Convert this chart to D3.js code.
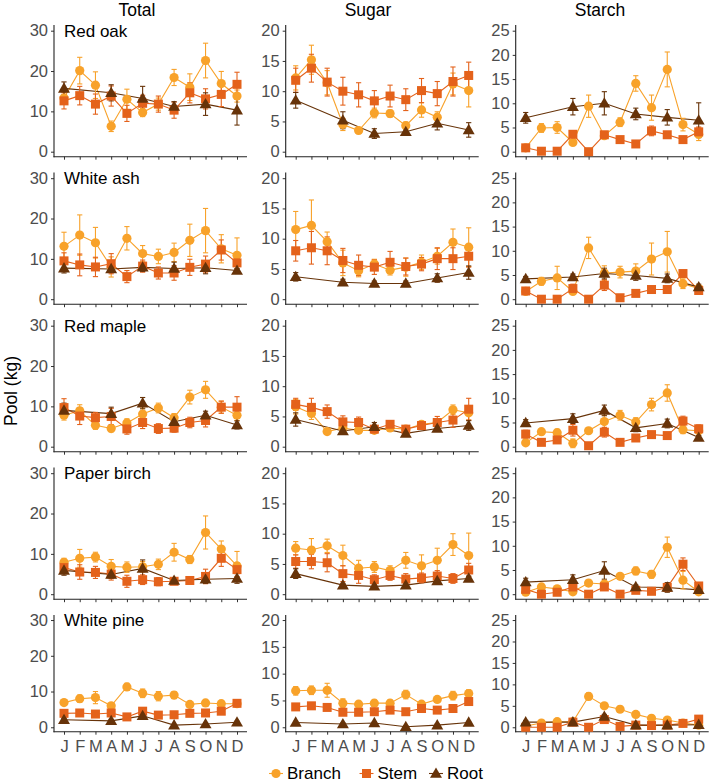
<!DOCTYPE html>
<html><head><meta charset="utf-8">
<script src="https://cdn.jsdelivr.net/npm/d3@7"></script>
<style>body{margin:0;background:#fff}svg{display:block;font-family:"Liberation Sans",Arial,sans-serif}</style>
</head><body><svg id="c" width="709" height="784"></svg>
<script>
const months = ["J","F","M","A","M","J","J","A","S","O","N","D"];
const rootMonths = [0,3,5,7,9,11];
const species = ["Red oak","White ash","Red maple","Paper birch","White pine"];
const pools = ["Total","Sugar","Starch"];
const seriesNames = ["Branch","Stem","Root"];
const totalTicks = [0,10,20,30];
const sugarTicks = [0,5,10,15,20];
const starchTicks = [0,5,10,15,20,25];

// each panel: [branch(12), stem(12), root(6 at rootMonths)]
const redOakTotal = [[13.3,20.1,16.5,6.3,13.0,9.7,11.8,18.4,16.0,22.6,16.9,13.8],[12.6,13.9,11.8,13.8,9.5,12.0,11.8,10.3,14.6,13.1,14.2,16.7],[15.7,14.6,13.2,11.2,11.8,10.3]];
const redOakTotalErr = [[1.5,3.3,3.3,1.3,2.5,1.0,1.5,2.0,3.3,4.3,3.0,1.5],[2.0,2.3,2.5,2.5,2.0,2.0,2.0,2.0,2.5,2.5,3.0,3.0],[1.6,2.0,3.0,1.2,2.8,3.7]];
const redOakSugar = [[12.2,15.2,11.4,4.5,3.5,6.4,6.3,4.3,6.9,5.7,11.2,10.1],[11.8,13.8,11.5,10.0,9.4,8.4,9.2,8.6,10.1,9.6,11.6,12.6],[8.5,5.2,3.0,3.3,4.7,3.6]];
const redOakSugarErr = [[2.0,2.4,2.0,1.0,0.5,0.8,0.6,0.6,1.2,0.9,1.8,2.7],[2.0,2.3,2.3,2.3,2.0,1.7,1.8,1.8,2.0,2.0,2.4,2.2],[1.3,1.4,0.8,0.5,1.1,1.2]];
const redOakStarch = [[0.8,4.9,5.0,1.9,9.4,3.3,6.1,14.1,9.1,17.0,5.6,3.6],[0.8,0.1,0.1,3.6,0.0,3.5,2.5,1.6,4.3,3.5,2.5,4.1],[7.0,9.3,10.0,7.8,7.1,6.5]];
const redOakStarchErr = [[0.3,0.9,1.2,0.5,2.3,0.5,0.9,1.6,2.6,3.6,1.3,1.3],[0.3,0.2,0.2,0.6,0.2,0.5,0.4,0.4,1.0,0.6,0.5,1.0],[1.1,1.7,2.4,1.2,1.6,3.6]];

const whiteAshTotal = [[13.1,15.9,14.0,8.0,15.1,11.3,10.6,11.6,14.6,17.0,12.5,10.9],[9.5,8.5,8.0,8.8,5.6,8.2,6.5,6.5,7.9,8.7,12.2,9.0],[7.7,7.5,7.9,7.6,7.8,7.1]];
const whiteAshTotalErr = [[3.5,5.0,3.8,2.5,2.9,2.0,1.8,2.3,4.0,5.5,3.5,4.3],[2.0,2.7,2.4,2.5,1.5,1.5,1.5,1.8,2.0,2.0,2.5,2.0],[1.2,0.8,1.0,1.6,1.5,0.5]];
const whiteAshSugar = [[11.5,12.2,9.5,6.0,4.7,5.8,4.8,5.3,6.1,7.1,9.4,8.6],[8.0,8.5,8.0,6.4,5.6,5.3,6.1,5.4,5.8,6.7,6.7,7.1],[3.7,2.8,2.6,2.6,3.5,4.4]];
const whiteAshSugarErr = [[3.0,4.2,1.6,2.1,1.0,0.8,0.8,1.5,1.2,1.3,2.2,3.2],[1.7,2.7,2.3,2.0,1.7,1.2,1.8,1.4,1.1,1.8,1.8,1.8],[0.7,0.5,0.4,0.4,0.7,1.1]];
const whiteAshStarch = [[1.6,3.7,4.4,1.6,10.6,5.4,5.6,5.8,8.3,9.8,3.2,2.2],[1.7,0.0,0.0,2.2,0.0,2.9,0.3,1.2,2.0,2.0,5.3,1.8],[4.2,4.6,5.3,4.9,4.3,2.5]];
const whiteAshStarchErr = [[0.4,0.8,2.4,0.4,2.2,1.5,1.2,1.5,3.3,4.2,1.0,0.5],[0.4,0.2,0.2,0.9,0.2,1.1,0.3,0.3,0.5,0.4,0.6,0.4],[0.5,0.6,1.1,1.0,0.9,0.6]];

const redMapleTotal = [[7.8,8.9,5.3,4.5,5.9,8.1,9.6,7.2,12.3,14.1,9.8,7.8],[9.7,7.6,7.2,7.5,4.4,6.0,4.5,4.6,6.0,6.5,9.8,9.8],[9.0,8.2,10.8,6.2,7.8,5.4]];
const redMapleTotalErr = [[1.2,1.5,1.0,0.8,1.0,1.5,1.2,1.0,1.7,2.1,1.5,1.3],[2.2,2.1,1.3,2.0,1.3,1.5,1.2,1.0,1.3,1.6,1.5,2.6],[1.8,1.6,1.4,1.0,1.0,1.0]];
const redMapleSugar = [[6.6,5.5,2.5,3.1,2.7,2.7,3.1,2.9,3.7,4.0,6.1,5.6],[7.0,6.5,5.8,4.1,4.0,2.9,3.7,2.9,3.5,4.0,4.4,6.2],[4.5,2.6,3.3,2.2,3.0,3.5]];
const redMapleSugarErr = [[1.2,1.0,0.3,0.5,0.4,0.5,0.4,0.3,0.5,0.6,0.8,1.2],[1.0,1.5,1.1,1.0,0.9,0.5,0.6,0.4,0.5,1.0,1.2,1.8],[1.1,0.5,0.7,0.4,0.4,0.8]];
const redMapleStarch = [[0.8,3.1,2.9,0.7,3.3,5.2,6.5,5.1,8.7,11.1,3.5,3.3],[2.6,0.9,1.4,3.4,0.2,3.0,0.9,1.8,2.5,2.3,5.3,3.7],[4.9,5.8,7.5,3.9,4.8,1.9]];
const redMapleStarchErr = [[0.5,0.6,0.7,0.9,0.5,1.3,1.0,0.9,1.3,1.7,0.8,0.5],[0.8,0.3,0.5,1.2,0.2,1.0,0.3,0.4,0.5,0.5,1.0,0.8],[0.7,1.0,1.1,0.8,0.9,0.4]];

const paperBirchTotal = [[7.9,8.9,9.2,6.9,6.7,6.8,7.4,10.4,8.6,15.3,11.2,7.0],[6.6,5.5,5.4,5.0,3.2,3.6,3.1,3.2,3.4,4.4,8.9,6.1],[5.9,4.9,6.4,3.4,3.7,3.9]];
const paperBirchTotalErr = [[1.0,2.2,1.2,1.7,1.3,1.3,1.3,2.2,1.0,4.1,2.0,3.6],[1.5,1.8,1.5,1.5,1.5,1.2,1.0,0.8,0.8,1.8,2.0,1.7],[1.2,1.0,2.1,0.6,1.0,1.2]];
const paperBirchSugar = [[7.6,7.3,8.0,6.4,4.3,4.5,3.9,5.6,4.7,5.6,8.2,6.4],[5.4,5.4,5.2,3.4,3.1,2.4,3.1,2.5,2.7,3.0,2.6,4.0],[3.4,1.5,1.3,1.5,2.2,2.6]];
const paperBirchSugarErr = [[1.1,1.9,1.1,1.7,1.3,0.9,0.8,1.3,1.8,2.0,1.8,3.7],[1.1,1.2,1.5,1.3,1.3,0.8,0.8,0.9,0.8,0.9,0.8,1.1],[0.8,0.3,0.4,0.3,0.4,0.4]];
const paperBirchStarch = [[0.4,1.5,1.1,0.5,2.3,2.1,3.7,4.8,4.1,9.7,2.9,0.5],[1.0,0.0,0.4,1.5,0.0,1.5,0.0,0.8,0.6,1.4,6.2,1.7],[2.5,3.0,4.9,1.5,1.4,0.9]];
const paperBirchStarchErr = [[0.3,0.3,0.3,0.3,0.3,0.4,0.4,0.8,0.8,2.1,1.8,0.4],[0.6,0.2,0.3,0.7,0.2,0.4,0.2,0.3,0.3,0.6,1.3,0.4],[0.8,1.0,1.8,0.4,1.0,0.3]];

const whitePineTotal = [[6.9,8.0,8.3,6.0,11.3,9.5,8.7,9.0,6.4,6.8,6.6,6.6],[3.9,4.0,3.7,4.0,2.9,4.5,3.4,3.5,3.9,4.0,4.5,6.7],[2.1,1.8,3.2,0.6,0.9,1.4]];
const whitePineTotalErr = [[0.8,1.0,1.7,0.7,1.0,1.2,1.3,1.0,0.6,0.6,0.7,0.7],[0.5,0.5,0.5,0.5,0.4,0.6,0.5,0.5,0.5,0.5,0.5,0.6],[0.4,0.4,0.5,0.2,0.3,0.3]];
const whitePineSugar = [[6.8,6.9,6.9,4.5,4.3,4.5,4.5,6.1,4.3,5.2,5.9,6.3],[3.8,4.0,3.7,2.8,2.8,2.9,3.2,2.9,3.5,3.2,3.5,4.8],[0.9,0.6,0.8,0.1,0.4,0.9]];
const whitePineSugarErr = [[0.8,0.8,1.3,0.8,0.4,0.6,0.6,0.8,0.4,0.4,0.8,0.7],[0.6,0.5,0.5,0.6,0.4,0.5,0.5,0.4,0.5,0.4,0.4,0.6],[0.2,0.2,0.2,0.2,0.2,0.2]];
const whitePineStarch = [[0.3,1.0,1.3,1.3,7.2,5.0,4.2,3.0,2.1,1.7,1.0,0.5],[0.0,0.0,0.0,1.2,0.0,1.8,0.2,0.5,0.4,0.5,0.9,1.9],[1.2,1.2,2.5,0.5,0.5,0.6]];
const whitePineStarchErr = [[0.2,0.3,0.3,0.3,0.8,0.5,0.7,0.4,0.3,0.4,0.3,0.2],[0.2,0.2,0.2,0.3,0.2,0.4,0.2,0.2,0.2,0.2,0.2,0.3],[0.4,0.3,0.5,0.2,0.2,0.2]];

const panelData = [
  [[redOakTotal,redOakTotalErr],[redOakSugar,redOakSugarErr],[redOakStarch,redOakStarchErr]],
  [[whiteAshTotal,whiteAshTotalErr],[whiteAshSugar,whiteAshSugarErr],[whiteAshStarch,whiteAshStarchErr]],
  [[redMapleTotal,redMapleTotalErr],[redMapleSugar,redMapleSugarErr],[redMapleStarch,redMapleStarchErr]],
  [[paperBirchTotal,paperBirchTotalErr],[paperBirchSugar,paperBirchSugarErr],[paperBirchStarch,paperBirchStarchErr]],
  [[whitePineTotal,whitePineTotalErr],[whitePineSugar,whitePineSugarErr],[whitePineStarch,whitePineStarchErr]]
];

const colors = ["#F8A22A","#E4621B","#673309"];
const colTicks = [totalTicks, sugarTicks, starchTicks];
const colMax = [30, 20, 25];
const colX = [54, 285.7, 515.7];
const panelW = 193;
const rowPitch = 147.5;

const svg = d3.select("#c");
const tickColor = "#4D4D4D";

function drawMarker(g, type, x, y, color, s) {
  if (type === 0) {
    g.append("circle").attr("cx", x).attr("cy", y).attr("r", 4.6*s).attr("fill", color);
  } else if (type === 1) {
    const h = 4.5*s;
    g.append("rect").attr("x", x-h).attr("y", y-h).attr("width", 2*h).attr("height", 2*h).attr("fill", color);
  } else {
    const sym = d3.symbol().type(d3.symbolTriangle).size(62*s*s);
    g.append("path").attr("d", sym()).attr("transform", `translate(${x},${y+0.8})`).attr("fill", color);
  }
}

for (let r = 0; r < 5; r++) {
  const top = 25 + rowPitch*r;
  const bottom = r < 4 ? top + 131.7 : 731.7;
  for (let c = 0; c < 3; c++) {
    const x0 = colX[c];
    const max = colMax[c];
    const x = d3.scaleLinear().domain([0, 11]).range([x0+10, x0+183]);
    const y = d3.scaleLinear().domain([-0.0413*max, 1.047*max]).range([bottom, top]);
    const g = svg.append("g");

    const ya = g.append("g").attr("transform", `translate(${x0},0)`)
      .call(d3.axisLeft(y).tickValues(colTicks[c]).tickSize(3).tickSizeOuter(0).tickPadding(3));
    ya.select(".domain").remove();
    ya.selectAll("line").attr("stroke", "#333").attr("stroke-width", 1);
    ya.selectAll("text").attr("fill", tickColor).attr("font-size", "16.5px").attr("font-family", "Liberation Sans, Arial, sans-serif");

    const xa = g.append("g").attr("transform", `translate(0,${bottom})`)
      .call(d3.axisBottom(x).tickValues(d3.range(12)).tickSize(3).tickSizeOuter(0).tickPadding(6)
        .tickFormat(i => r === 4 ? months[i] : ""));
    xa.select(".domain").remove();
    xa.selectAll("line").attr("stroke", "#333").attr("stroke-width", 1);
    xa.selectAll("text").attr("fill", tickColor).attr("font-size", "16.5px").attr("font-family", "Liberation Sans, Arial, sans-serif");

    g.append("line").attr("x1", x0).attr("x2", x0).attr("y1", top).attr("y2", bottom+0.5).attr("stroke", "#222").attr("stroke-width", 1.1);
    g.append("line").attr("x1", x0-0.5).attr("x2", x0+panelW).attr("y1", bottom).attr("y2", bottom).attr("stroke", "#222").attr("stroke-width", 1.1);

    const [vals, errs] = panelData[r][c];
    const series = vals.map((arr, s) => arr.map((v, i) => ({
      m: s === 2 ? rootMonths[i] : i, v, e: errs[s][i]
    })));
    const line = d3.line().x(d => x(d.m)).y(d => y(d.v));
    series.forEach((pts, s) => {
      g.append("path").attr("d", line(pts)).attr("fill", "none").attr("stroke", colors[s]).attr("stroke-width", 1.1);
    });
    series.forEach((pts, s) => {
      pts.forEach(d => {
        const cx = x(d.m), y1 = y(d.v - d.e), y2 = y(d.v + d.e);
        g.append("line").attr("x1", cx).attr("x2", cx).attr("y1", y1).attr("y2", y2).attr("stroke", colors[s]).attr("stroke-width", 1.1);
        [y1, y2].forEach(yy => g.append("line").attr("x1", cx-2.6).attr("x2", cx+2.6).attr("y1", yy).attr("y2", yy).attr("stroke", colors[s]).attr("stroke-width", 1.1));
      });
    });
    series.forEach((pts, s) => {
      pts.forEach(d => drawMarker(g, s, x(d.m), y(d.v), colors[s], 1));
    });

    if (c === 0) {
      g.append("text").attr("x", x0+10).attr("y", y(max)).attr("dy", "0.35em")
        .attr("font-size", "17px").attr("fill", "#000").text(species[r]);
    }
  }
}

const titleX = [137, 368, 600];
pools.forEach((p, c) => {
  svg.append("text").attr("x", titleX[c]).attr("y", 10).attr("dy", "0.35em").attr("text-anchor", "middle")
    .attr("font-size", "17.5px").attr("fill", "#000").text(p);
});

svg.append("text").attr("transform", "translate(11,391) rotate(-90)").attr("text-anchor", "middle").attr("dy", "0.35em")
  .attr("font-size", "17.5px").attr("fill", "#000").text("Pool (kg)");

const legX = [276, 366.5, 436];
const legY = 773.5;
seriesNames.forEach((n, s) => {
  const lg = svg.append("g");
  lg.append("line").attr("x1", legX[s]-7).attr("x2", legX[s]+7).attr("y1", legY).attr("y2", legY).attr("stroke", colors[s]).attr("stroke-width", 1.1);
  drawMarker(lg, s, legX[s], legY, colors[s], 1);
  lg.append("text").attr("x", legX[s]+11).attr("y", legY).attr("dy", "0.35em").attr("font-size", "17px").attr("fill", "#000").text(n);
});
</script></body></html>
